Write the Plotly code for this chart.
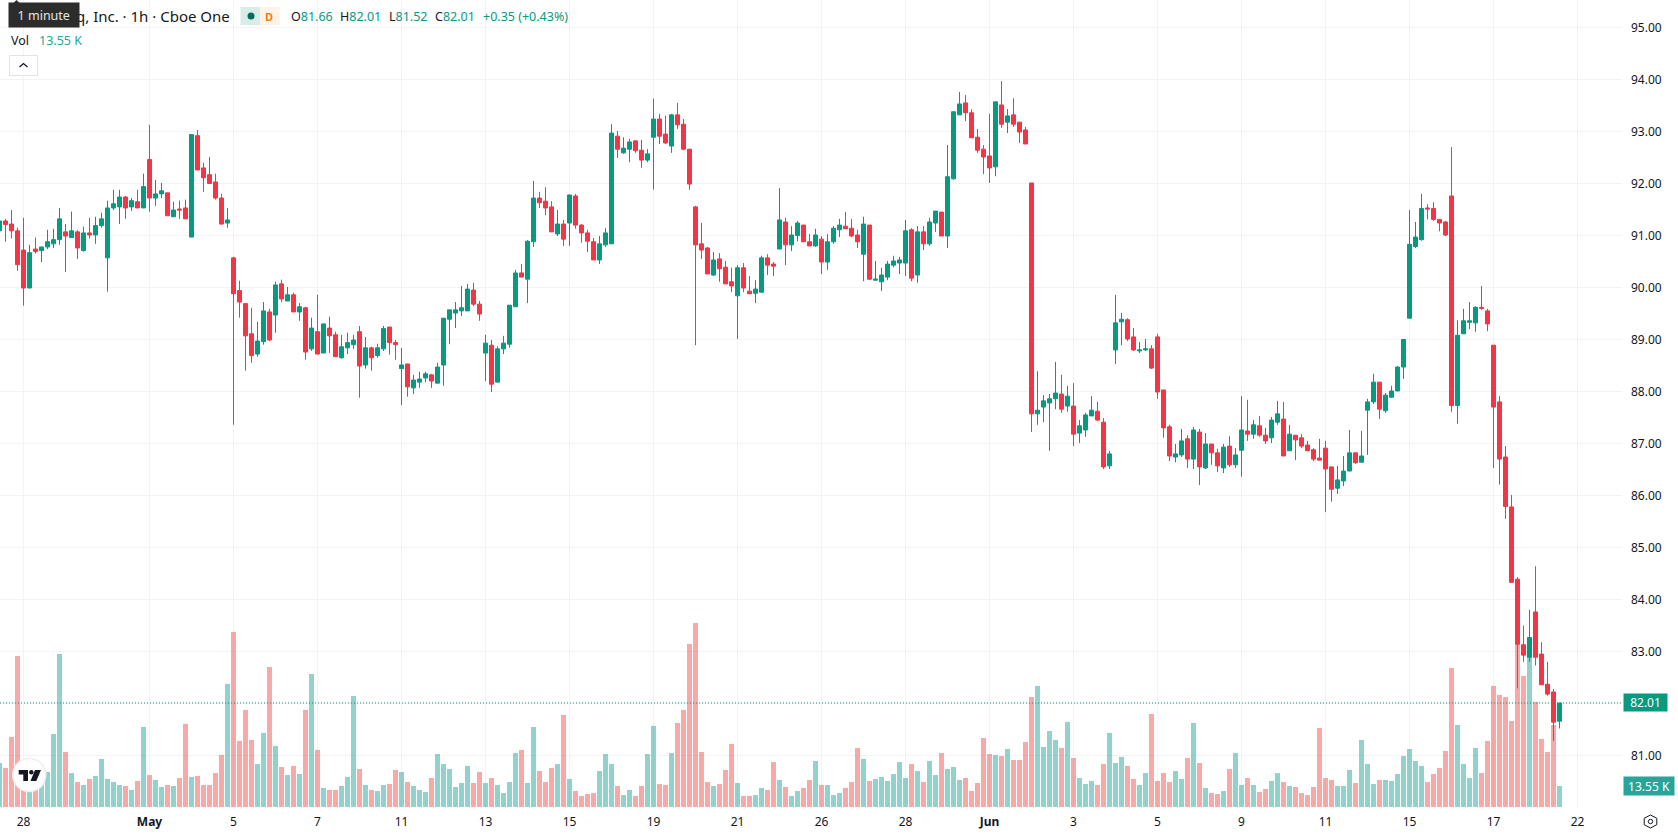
import plotly.graph_objects as go

# Hourly session candles, oldest first
opens = [
    91.09, 91.28, 91.22, 91.09, 90.72, 89.99, 90.74, 90.71, 90.78, 90.84,
    90.92, 91.07, 90.96, 91.07, 90.71, 91.05, 91.01, 91.19, 90.57, 91.53,
    91.55, 91.74, 91.55, 91.65, 91.53, 92.46, 91.72, 91.80, 91.82, 91.36,
    91.51, 91.53, 90.97, 92.92, 92.30, 92.17, 92.03, 91.72, 91.24, 90.57,
    89.94, 89.69, 89.11, 88.72, 88.96, 89.53, 89.47, 90.07, 89.74, 89.86,
    89.53, 89.61, 88.82, 89.15, 88.74, 89.22, 89.09, 88.65, 88.84, 88.90,
    89.15, 88.51, 88.84, 88.69, 88.82, 89.24, 88.94, 88.44, 88.53, 88.07,
    88.18, 88.26, 88.32, 88.16, 88.51, 89.39, 89.51, 89.55, 89.55, 89.95,
    89.68, 88.74, 88.89, 88.18, 88.82, 88.91, 89.63, 90.28, 90.16, 90.88,
    91.72, 91.66, 91.55, 91.03, 91.22, 91.24, 91.76, 91.20, 91.05, 90.88,
    90.53, 90.82, 90.84, 92.91, 92.59, 92.66, 92.82, 92.64, 92.45, 92.89,
    93.24, 92.95, 92.72, 93.32, 93.14, 92.66, 91.55, 90.84, 90.76, 90.24,
    90.55, 90.39, 90.11, 89.84, 90.38, 89.93, 89.89, 89.91, 90.57, 90.45,
    90.74, 91.26, 90.82, 91.00, 91.20, 90.88, 90.80, 90.93, 90.49, 90.88,
    91.11, 91.18, 91.14, 91.01, 90.64, 91.20, 90.14, 90.11, 90.20, 90.43,
    90.47, 90.47, 91.11, 90.24, 91.07, 90.84, 91.24, 91.45, 90.99, 92.09,
    93.32, 93.55, 93.36, 92.89, 92.66, 92.53, 92.32, 93.51, 93.18, 93.32,
    93.18, 93.03, 92.01, 87.57, 87.70, 87.78, 87.86, 87.95, 87.72, 87.72,
    87.20, 87.26, 87.53, 87.62, 87.41, 86.57, 88.80, 89.34, 89.38, 89.05,
    88.78, 88.80, 88.82, 89.05, 88.03, 87.32, 86.74, 86.78, 87.09, 86.70,
    87.22, 86.53, 86.99, 86.82, 86.53, 86.95, 86.59, 86.87, 87.24, 87.18,
    87.34, 87.16, 87.11, 87.41, 87.47, 86.86, 87.16, 87.11, 86.97, 86.88,
    86.72, 86.91, 86.55, 86.14, 86.28, 86.47, 86.82, 86.64, 87.64, 87.80,
    88.18, 87.63, 87.89, 88.01, 88.47, 89.41, 90.79, 90.92, 91.53, 91.52,
    91.31, 91.26, 91.76, 87.73, 89.11, 89.33, 89.32, 89.62, 89.55, 88.89,
    87.80, 86.74, 85.78, 84.39, 83.13, 82.89, 83.76, 82.95, 82.37, 82.22,
    81.66,
]
highs = [
    91.32, 91.32, 91.49, 91.15, 91.34, 90.82, 90.96, 90.78, 91.11, 91.13,
    91.53, 91.22, 91.46, 91.10, 91.17, 91.34, 91.36, 91.44, 91.67, 91.88,
    91.88, 91.76, 91.72, 91.88, 92.19, 93.13, 92.07, 92.01, 91.82, 91.65,
    91.67, 91.69, 92.94, 93.03, 92.40, 92.51, 92.19, 91.80, 91.53, 90.59,
    90.13, 89.69, 89.61, 89.34, 89.72, 89.59, 90.11, 90.15, 90.01, 89.90,
    89.70, 89.63, 89.42, 89.86, 89.30, 89.44, 89.15, 89.09, 89.13, 89.09,
    89.26, 89.05, 88.86, 88.92, 89.26, 89.24, 88.99, 88.84, 88.53, 88.32,
    88.38, 88.38, 88.34, 88.55, 89.41, 89.57, 89.72, 90.03, 90.07, 90.09,
    89.74, 89.09, 88.99, 88.87, 89.07, 89.66, 90.34, 90.45, 90.91, 92.05,
    91.84, 91.93, 91.66, 91.49, 91.30, 91.78, 91.80, 91.22, 91.11, 90.95,
    90.99, 91.14, 93.14, 93.01, 92.89, 92.86, 92.82, 92.84, 92.66, 93.63,
    93.34, 93.30, 93.34, 93.55, 93.24, 92.66, 91.57, 91.24, 90.78, 90.68,
    90.66, 90.51, 90.38, 90.43, 90.47, 90.22, 90.14, 90.61, 90.64, 90.49,
    91.91, 91.34, 91.18, 91.28, 91.20, 91.03, 91.13, 90.99, 91.03, 91.18,
    91.32, 91.45, 91.32, 91.11, 91.36, 91.20, 90.51, 90.38, 90.51, 90.61,
    90.59, 91.30, 91.14, 91.18, 91.18, 91.34, 91.47, 91.45, 92.74, 93.38,
    93.76, 93.70, 93.43, 93.05, 92.74, 93.34, 93.57, 93.97, 93.43, 93.64,
    93.18, 93.09, 92.01, 88.39, 87.93, 87.95, 88.57, 88.32, 88.11, 88.16,
    87.45, 87.59, 87.91, 87.80, 87.49, 86.86, 89.86, 89.51, 89.41, 89.22,
    88.95, 89.01, 88.89, 89.11, 88.03, 87.36, 86.99, 87.28, 87.16, 87.32,
    87.28, 87.20, 86.99, 86.90, 86.99, 87.14, 86.91, 87.91, 87.84, 87.45,
    87.53, 87.30, 87.51, 87.82, 87.80, 87.36, 87.16, 87.18, 87.05, 86.91,
    87.09, 87.05, 86.55, 86.57, 86.76, 87.26, 86.82, 87.24, 87.86, 88.34,
    88.18, 87.97, 88.11, 88.49, 89.00, 91.49, 91.26, 91.80, 91.60, 91.64,
    91.31, 91.28, 92.70, 89.37, 89.59, 89.72, 89.64, 90.03, 89.59, 88.89,
    87.91, 86.95, 86.01, 84.43, 83.50, 83.80, 84.64, 83.18, 82.80, 82.28,
    82.01,
]
lows = [
    91.05, 90.88, 90.94, 90.32, 89.65, 89.99, 90.65, 90.49, 90.74, 90.76,
    90.82, 90.30, 90.96, 90.55, 90.69, 90.94, 90.84, 91.15, 89.92, 91.49,
    91.22, 91.32, 91.47, 91.53, 91.53, 91.46, 91.57, 91.72, 91.38, 91.36,
    91.32, 91.32, 90.97, 92.26, 91.84, 92.00, 91.69, 91.21, 91.15, 87.36,
    89.42, 88.40, 88.55, 88.67, 88.90, 88.97, 89.13, 89.72, 89.74, 89.53,
    89.36, 88.61, 88.78, 88.72, 88.74, 88.74, 88.67, 88.63, 88.72, 88.82,
    87.88, 88.44, 88.40, 88.65, 88.78, 88.71, 88.61, 87.74, 87.90, 87.95,
    88.07, 88.18, 88.07, 88.16, 88.11, 88.91, 89.22, 89.45, 89.55, 89.64,
    89.36, 88.20, 87.99, 88.18, 88.72, 88.84, 89.63, 90.20, 89.70, 90.78,
    91.53, 91.39, 91.07, 90.99, 90.80, 90.80, 91.13, 90.86, 90.68, 90.53,
    90.45, 90.78, 90.84, 92.49, 92.57, 92.41, 92.59, 92.30, 92.41, 91.88,
    92.76, 92.76, 92.59, 93.05, 92.64, 91.88, 88.89, 90.55, 90.26, 90.22,
    90.11, 90.07, 89.91, 89.01, 89.91, 89.88, 89.70, 89.91, 90.24, 90.22,
    90.74, 90.43, 90.70, 90.89, 90.88, 90.80, 90.78, 90.26, 90.34, 90.84,
    90.97, 91.13, 90.97, 90.76, 90.12, 90.14, 90.14, 89.93, 90.14, 90.39,
    90.26, 90.22, 90.12, 90.09, 90.72, 90.80, 91.07, 90.99, 90.76, 92.07,
    93.32, 93.20, 92.88, 92.59, 92.18, 92.01, 92.14, 93.07, 92.97, 93.09,
    92.78, 92.76, 87.22, 87.36, 87.41, 86.86, 87.66, 87.59, 87.61, 86.95,
    87.01, 87.13, 87.53, 87.43, 86.51, 86.51, 88.53, 88.89, 88.97, 88.78,
    88.74, 88.78, 88.43, 87.86, 87.11, 86.66, 86.64, 86.74, 86.53, 86.51,
    86.20, 86.51, 86.59, 86.45, 86.43, 86.55, 86.53, 86.36, 87.05, 87.09,
    87.13, 86.99, 87.01, 87.36, 86.76, 86.86, 86.68, 86.91, 86.86, 86.66,
    86.68, 85.68, 85.88, 86.03, 86.18, 86.47, 86.61, 86.64, 86.78, 87.76,
    87.47, 87.59, 87.88, 88.01, 88.24, 89.41, 90.76, 90.90, 91.31, 91.28,
    91.08, 90.99, 87.61, 87.38, 89.11, 89.20, 89.15, 89.57, 89.16, 86.53,
    86.21, 85.55, 84.33, 82.29, 82.80, 82.80, 82.73, 82.36, 82.15, 81.28,
    81.52,
]
closes = [
    91.28, 91.21, 91.09, 90.44, 89.99, 90.67, 90.69, 90.78, 90.88, 90.92,
    91.32, 90.99, 91.09, 90.76, 91.05, 91.01, 91.19, 91.32, 91.53, 91.61,
    91.74, 91.53, 91.67, 91.53, 91.94, 91.72, 91.80, 91.86, 91.38, 91.49,
    91.49, 91.32, 92.94, 92.26, 92.11, 92.00, 91.72, 91.22, 91.30, 89.88,
    89.72, 89.07, 88.69, 88.97, 89.55, 88.99, 90.05, 89.78, 89.86, 89.53,
    89.63, 88.76, 89.22, 88.72, 89.30, 89.07, 88.67, 88.86, 88.94, 88.99,
    88.49, 88.84, 88.65, 88.84, 89.21, 88.94, 88.90, 88.51, 88.09, 88.22,
    88.24, 88.34, 88.20, 88.47, 89.41, 89.57, 89.57, 89.61, 89.97, 89.68,
    89.49, 88.93, 88.14, 88.82, 88.93, 89.66, 90.28, 90.20, 90.89, 91.72,
    91.63, 91.53, 91.07, 91.22, 90.93, 91.78, 91.20, 91.05, 90.89, 90.53,
    90.84, 91.05, 92.97, 92.66, 92.68, 92.80, 92.63, 92.45, 92.57, 93.24,
    92.91, 92.78, 93.32, 93.13, 92.66, 91.99, 90.82, 90.72, 90.26, 90.53,
    90.36, 90.07, 90.03, 90.38, 89.99, 89.88, 89.97, 90.57, 90.43, 90.41,
    91.30, 90.82, 91.01, 91.24, 90.88, 90.80, 91.01, 90.49, 90.88, 91.14,
    91.20, 91.13, 90.99, 90.88, 91.22, 90.16, 90.16, 90.24, 90.45, 90.51,
    90.53, 91.09, 90.18, 91.07, 90.84, 91.26, 91.47, 90.99, 92.13, 93.38,
    93.53, 93.36, 92.88, 92.64, 92.51, 92.30, 93.57, 93.14, 93.30, 93.14,
    92.99, 92.76, 87.57, 87.64, 87.82, 87.86, 87.97, 87.66, 87.91, 87.18,
    87.34, 87.55, 87.64, 87.45, 86.55, 86.80, 89.32, 89.39, 89.01, 88.80,
    88.80, 88.82, 88.45, 87.99, 87.30, 86.76, 86.80, 87.05, 86.70, 87.26,
    86.55, 86.99, 86.82, 86.57, 86.93, 86.59, 86.78, 87.26, 87.18, 87.36,
    87.16, 87.05, 87.45, 87.57, 86.76, 87.18, 87.07, 86.95, 86.86, 86.70,
    86.68, 86.51, 86.12, 86.30, 86.47, 86.82, 86.63, 86.76, 87.80, 88.18,
    87.66, 87.93, 88.01, 88.47, 89.00, 90.83, 90.97, 91.52, 91.51, 91.31,
    91.24, 91.01, 87.73, 89.08, 89.36, 89.36, 89.62, 89.60, 89.30, 87.70,
    86.70, 85.79, 84.33, 83.14, 82.93, 83.27, 82.89, 82.36, 82.18, 81.64,
    82.01,
]

# Traded volume per candle, in thousands of shares
volumes = [
    28.4, 25.2, 45.2, 97.4, 17.4, 13.1, 13.0, 21.7, 22.6, 47.1,
    98.7, 35.5, 21.9, 16.1, 14.2, 18.1, 20.0, 31.0, 18.1, 16.1,
    14.2, 13.6, 11.0, 16.8, 51.6, 20.6, 17.4, 12.9, 14.2, 13.6,
    18.7, 53.6, 19.4, 20.0, 14.2, 14.2, 21.9, 33.6, 79.4, 112.9,
    42.6, 62.6, 43.2, 27.7, 47.8, 90.3, 39.4, 25.8, 20.6, 26.5,
    21.3, 62.6, 85.8, 36.8, 12.3, 11.0, 11.0, 13.6, 19.4, 71.6,
    24.5, 14.2, 11.0, 10.3, 14.2, 14.8, 23.9, 22.6, 16.1, 13.6,
    11.0, 9.7, 18.7, 34.2, 27.7, 24.5, 12.9, 15.5, 26.5, 15.5,
    22.6, 15.5, 18.7, 14.2, 9.0, 16.1, 34.8, 36.8, 15.5, 51.6,
    23.2, 16.1, 25.2, 27.7, 59.4, 18.1, 10.3, 7.1, 8.4, 9.0,
    23.2, 34.2, 27.7, 13.6, 7.7, 11.0, 7.1, 13.6, 34.2, 52.3,
    14.8, 14.2, 34.8, 54.2, 62.6, 105.2, 118.7, 35.5, 16.1, 13.6,
    14.8, 23.9, 40.7, 15.5, 7.1, 7.1, 7.7, 12.3, 11.0, 29.0,
    17.4, 12.9, 7.1, 10.3, 12.3, 17.4, 29.7, 14.2, 14.2, 7.7, 9.0,
    12.3, 16.1, 38.1, 31.0, 16.8, 18.1, 19.4, 16.8, 21.3, 29.0,
    18.7, 27.7, 23.2, 16.1, 29.7, 20.6, 34.8, 24.5, 25.8, 17.4,
    18.7, 10.3, 15.5, 44.5, 34.2, 33.6, 32.9, 37.4, 30.3, 30.3,
    41.9, 71.0, 78.1, 38.7, 49.0, 43.2, 38.1, 54.9, 31.6, 18.7,
    14.8, 16.8, 14.2, 27.7, 47.8, 28.4, 32.3, 26.5, 18.1, 14.2,
    21.9, 60.0, 16.8, 21.9, 16.1, 23.2, 18.1, 31.6, 54.2, 28.4,
    12.3, 9.0, 8.4, 10.3, 24.5, 34.8, 14.2, 18.7, 14.2, 9.7,
    11.6, 16.8, 21.9, 16.1, 13.6, 12.9, 9.0, 7.7, 12.9, 51.0,
    18.7, 17.4, 13.6, 13.6, 23.9, 15.5, 43.2, 27.7, 14.8, 17.4,
    17.4, 16.8, 21.3, 32.9, 37.4, 29.7, 26.5, 16.1, 21.3, 25.2,
    36.1, 89.7, 52.9, 27.7, 18.7, 38.1, 21.9, 42.6, 78.1, 72.3,
    71.0, 55.5, 105.0, 84.5, 97.5, 67.8, 43.9, 35.5, 52.9, 13.55,
]

# Candle slots that carry a date label, with the label drawn there
tick_slots = [4, 25, 39, 53, 67, 81, 95, 109, 123, 137, 151, 165, 179, 193, 207, 221, 235, 249, 263]
tick_labels = ["28", "<b>May</b>", "5", "7", "11", "13", "15", "19", "21", "26",
               "28", "<b>Jun</b>", "3", "5", "9", "11", "15", "17", "22"]
price_ticks = list(range(81, 96))

UP = "#089981"
DOWN = "#F23645"
UP_VOL = "rgba(38,166,154,0.5)"
DOWN_VOL = "rgba(239,83,80,0.5)"
INK = "#131722"
GRID = "#F2F3F5"
FONT = "Noto Sans"

FIG_W, FIG_H = 1678, 835
PLOT_W, PLOT_H = 1622, 808


def px(x):
    return x / PLOT_W


def py(y):
    return 1 - y / PLOT_H


slots = list(range(len(closes)))
vol_colors = [UP_VOL if c >= o else DOWN_VOL for o, c in zip(opens, closes)]

fig = go.Figure()
fig.add_bar(x=slots, y=volumes, marker=dict(color=vol_colors, line_width=0), yaxis="y", hoverinfo="skip")
fig.add_candlestick(
    x=slots, open=opens, high=highs, low=lows, close=closes, yaxis="y2",
    increasing=dict(line=dict(color=UP, width=1), fillcolor=UP),
    decreasing=dict(line=dict(color=DOWN, width=1), fillcolor=DOWN),
    whiskerwidth=0, hoverinfo="skip",
)


def label(x, y, text, size=12.5, color=INK, anchor="left", **kw):
    return dict(xref="paper", yref="paper", x=px(x), y=py(y), text=text, showarrow=False,
                xanchor=anchor, yanchor="middle", font=dict(family=FONT, size=size, color=color), **kw)


def ohlc_value(tag, value):
    return f'<span style="color:{INK}">{tag}</span>{value:.2f}'


change = closes[-1] - opens[-1]
change_pct = change / opens[-1] * 100

annotations = [
    label(231.5, 16, "q, Inc. · 1h · Cboe One", size=15, anchor="right"),
    label(269.4, 16, "<b>D</b>", size=11, color="#F57C00", anchor="center"),
    label(288.5, 16, ohlc_value("O", opens[-1]), color=UP),
    label(338, 16, ohlc_value("H", highs[-1]), color=UP),
    label(387, 16, ohlc_value("L", lows[-1]), color=UP),
    label(433, 16, ohlc_value("C", closes[-1]), color=UP),
    label(480.5, 16, f"+{change:.2f} (+{change_pct:.2f}%)", color=UP),
    label(9, 40.5, "Vol"),
    label(36.5, 40.5, f"{volumes[-1]:.2f} K", color="#26A69A"),
    # Hover hint beside the symbol title
    label(44, 15, "1 minute", size=12.5, color="#E6E6E6", anchor="center",
          bgcolor="#2C2C2C", width=67.5, height=22, align="center"),
    # Price and volume tags on the right scale
    dict(xref="paper", yref="y2", x=px(1623), y=closes[-1], text=f"{closes[-1]:.2f}", showarrow=False,
         xanchor="left", yanchor="middle", bgcolor=UP, width=41, height=15, align="center",
         font=dict(family=FONT, size=12, color="#FFFFFF")),
    dict(xref="paper", yref="y", x=px(1623), y=volumes[-1], text=f"{volumes[-1]:.2f} K", showarrow=False,
         xanchor="left", yanchor="middle", bgcolor="#26A69A", width=48, height=16, align="center",
         font=dict(family=FONT, size=12, color="#FFFFFF")),
]


def rect(x0, y0, x1, y1, **kw):
    return dict(type="rect", xref="paper", yref="paper", x0=px(x0), x1=px(x1), y0=py(y0), y1=py(y1), **kw)


def circle(cx, cy, r, **kw):
    return dict(type="circle", xref="paper", yref="paper", x0=px(cx - r), x1=px(cx + r),
                y0=py(cy - r), y1=py(cy + r), **kw)


def path(points, closed=True, **kw):
    d = "M " + " L ".join(f"{px(x):.5f},{py(y):.5f}" for x, y in points) + (" Z" if closed else "")
    return dict(type="path", xref="paper", yref="paper", path=d, **kw)


shapes = [
    # Last price guide
    dict(type="line", xref="paper", yref="y2", x0=0, x1=1, y0=closes[-1], y1=closes[-1],
         line=dict(color=UP, width=1, dash="1px,2px")),
    # Session and delay status pill
    rect(240.5, 7, 260, 25, fillcolor="#D7EDE9", line_width=0),
    rect(260, 7, 280, 25, fillcolor="#FFF3E5", line_width=0),
    circle(251, 16, 3.5, fillcolor="#0B6B5A", line_width=0),
    # Pointer of the hover hint
    path([(12.5, 4), (16.5, 0), (20.5, 4)], fillcolor="#2C2C2C", line_width=0),
    # Collapse button under the legend
    rect(9.5, 55.5, 37.5, 75.5, fillcolor="#FFFFFF", line=dict(color="#E0E3EB", width=1)),
    path([(19.5, 67), (23.5, 63.5), (27.5, 67)], closed=False, line=dict(color=INK, width=1.3)),
    # Watermark badge
    circle(29.3, 775, 16.5, fillcolor="#FFFFFF", line=dict(color="#EFEFEF", width=1.5)),
    path([(18.7, 770), (28, 770), (28, 781), (23.3, 781), (23.3, 774.5), (18.7, 774.5)],
         fillcolor="#131722", line_width=0),
    circle(31.3, 772.2, 2.2, fillcolor="#131722", line_width=0),
    path([(35, 770), (41, 770), (36.3, 781), (30.5, 781)], fillcolor="#131722", line_width=0),
]

# Settings hexagon under the price scale
hex_pts = [(1650.5, 815), (1656.8, 818.3), (1656.8, 824.7), (1650.5, 828), (1644.2, 824.7), (1644.2, 818.3)]
shapes.append(path(hex_pts, line=dict(color=INK, width=1)))
shapes.append(circle(1650.5, 821.5, 2.2, line=dict(color=INK, width=1)))

fig.update_layout(
    width=FIG_W, height=FIG_H,
    margin=dict(l=0, r=FIG_W - PLOT_W, t=0, b=FIG_H - PLOT_H, pad=0),
    paper_bgcolor="#FFFFFF", plot_bgcolor="#FFFFFF",
    showlegend=False, hovermode=False, dragmode=False,
    bargap=1 / 6, boxgap=1 / 3, boxgroupgap=0,
    font=dict(family=FONT, size=12, color=INK),
    xaxis=dict(
        range=[1 / 12, 270.4167], tickmode="array", tickvals=tick_slots, ticktext=tick_labels,
        showgrid=True, gridcolor=GRID, gridwidth=1, zeroline=False, showline=False,
        ticks="", rangeslider=dict(visible=False), tickfont=dict(family=FONT, size=12, color=INK),
        ticklabelstandoff=5,
    ),
    yaxis=dict(range=[-0.645, 520.5], visible=False, showgrid=False, zeroline=False),
    yaxis2=dict(
        range=[79.99, 95.529], overlaying="y", side="right", tickmode="array", tickvals=price_ticks,
        ticktext=[f"{p:.2f}" for p in price_ticks], showgrid=True, gridcolor=GRID, gridwidth=1,
        zeroline=False, showline=False, ticks="", tickfont=dict(family=FONT, size=12, color=INK),
        ticklabelstandoff=8,
    ),
    annotations=annotations, shapes=shapes,
)

fig.write_html("out.html", config=dict(displayModeBar=False, responsive=False))
